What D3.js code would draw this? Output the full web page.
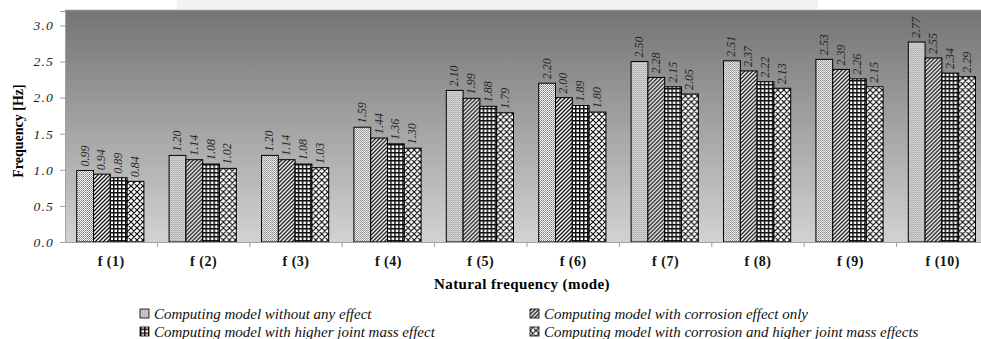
<!DOCTYPE html>
<html lang="en">
<head>
<meta charset="UTF-8">
<title>Natural frequency chart</title>
<script src="https://d3js.org/d3.v7.min.js"></script>
<style>
    body, html { margin: 0; padding: 0; background: #fff; overflow: hidden; }
    svg { display: block; }
    text { font-family: "Liberation Serif", "Times New Roman", serif; }
</style>
</head>
<body>
<div id="chart"></div>
<script>
// data
const modes = ["f (1)", "f (2)", "f (3)", "f (4)", "f (5)", "f (6)", "f (7)", "f (8)", "f (9)", "f (10)"];
const seriesNames = [
    "Computing model without any effect",
    "Computing model with corrosion effect only",
    "Computing model with higher joint mass effect",
    "Computing model with corrosion and higher joint mass effects"
];
const noEffect      = [0.99, 1.20, 1.20, 1.59, 2.10, 2.20, 2.50, 2.51, 2.53, 2.77];
const corrosionOnly = [0.94, 1.14, 1.14, 1.44, 1.99, 2.00, 2.28, 2.37, 2.39, 2.55];
const jointMass     = [0.89, 1.08, 1.08, 1.36, 1.88, 1.89, 2.15, 2.22, 2.26, 2.34];
const bothEffects   = [0.84, 1.02, 1.03, 1.30, 1.79, 1.80, 2.05, 2.13, 2.15, 2.29];
const yTicks = [0, 0.5, 1.0, 1.5, 2.0, 2.5, 3.0];

(function() {
const series = [noEffect, corrosionOnly, jointMass, bothEffects];

const W = 981, H = 339;
const plotLeft = 65, plotTop = 10, plotBottom = 242;
const band = 92.4;

const svg = d3.select("#chart").append("svg")
    .attr("width", W).attr("height", H);

const defs = svg.append("defs");

const grad = defs.append("linearGradient")
    .attr("id", "bg").attr("x1", 0).attr("y1", 0).attr("x2", 0).attr("y2", 1);
grad.append("stop").attr("offset", "0%").attr("stop-color", "#747474");
grad.append("stop").attr("offset", "100%").attr("stop-color", "#d2d2d2");

// fill patterns for the four series
let p = defs.append("pattern").attr("id", "pat0").attr("patternUnits", "userSpaceOnUse")
    .attr("width", 2).attr("height", 2);
p.append("rect").attr("width", 2).attr("height", 2).attr("fill", "#fff");
p.append("rect").attr("width", 1).attr("height", 1).attr("fill", "#777");
p.append("rect").attr("x", 1).attr("y", 1).attr("width", 1).attr("height", 1).attr("fill", "#999");

p = defs.append("pattern").attr("id", "pat1").attr("patternUnits", "userSpaceOnUse")
    .attr("width", 4).attr("height", 4);
p.append("rect").attr("width", 4).attr("height", 4).attr("fill", "#fff");
p.append("path").attr("d", "M-1,5 L5,-1 M-1,1 L1,-1 M3,5 L5,3")
    .attr("stroke", "#111").attr("stroke-width", 1.3);

p = defs.append("pattern").attr("id", "pat2").attr("patternUnits", "userSpaceOnUse")
    .attr("width", 4).attr("height", 4);
p.append("rect").attr("width", 4).attr("height", 4).attr("fill", "#fff");
p.append("rect").attr("width", 4).attr("height", 1.5).attr("fill", "#111");
p.append("rect").attr("width", 1.5).attr("height", 4).attr("fill", "#111");

p = defs.append("pattern").attr("id", "pat3").attr("patternUnits", "userSpaceOnUse")
    .attr("width", 6).attr("height", 6);
p.append("rect").attr("width", 6).attr("height", 6).attr("fill", "#fff");
p.append("path").attr("d", "M0,0 L6,6 M6,0 L0,6 M-1,5 L1,7 M5,-1 L7,1 M-1,1 L1,-1 M5,7 L7,5")
    .attr("stroke", "#111").attr("stroke-width", 1.2);

// scales
const x = d3.scaleBand().domain(modes).range([plotLeft, plotLeft + band * modes.length]).paddingInner(0).paddingOuter(0);
const xs = d3.scaleBand().domain(d3.range(series.length)).range([11.7, 11.7 + 67.2]);
const y = d3.scaleLinear().domain([0, 3.2]).range([plotBottom, plotTop + 1]);

// title strip remnant
svg.append("rect").attr("x", 177).attr("y", 0).attr("width", 641).attr("height", 9).attr("fill", "#f2f2f2");

// plot area
svg.append("rect").attr("x", plotLeft).attr("y", plotTop).attr("width", W - plotLeft + 20).attr("height", plotBottom - plotTop)
    .attr("fill", "url(#bg)");
svg.append("line").attr("x1", plotLeft).attr("x2", W).attr("y1", plotTop + 0.5).attr("y2", plotTop + 0.5)
    .attr("stroke", "#8a8a8a").attr("stroke-width", 1.5);

// bars
const groups = svg.append("g").selectAll("g")
    .data(modes).join("g")
    .attr("transform", d => `translate(${x(d)},0)`);

series.forEach((vals, si) => {
    groups.append("rect")
        .attr("x", xs(si))
        .attr("width", xs.bandwidth())
        .attr("y", (d, i) => y(vals[i]))
        .attr("height", (d, i) => plotBottom - y(vals[i]))
        .attr("fill", `url(#pat${si})`)
        .attr("stroke", "#000").attr("stroke-width", 1);

    groups.append("text")
        .attr("transform", (d, i) => `translate(${xs(si) + xs.bandwidth() / 2 + 3.5},${y(vals[i]) - 4}) rotate(-90)`)
        .attr("font-size", 12).attr("font-style", "italic").attr("fill", "#222")
        .text((d, i) => vals[i].toFixed(2));
});

// y axis
const yAxis = svg.append("g").attr("transform", `translate(${plotLeft},0)`)
    .call(d3.axisLeft(y).tickValues(yTicks).tickFormat(d3.format(".1f")).tickSize(5).tickPadding(6));
yAxis.select(".domain").attr("stroke", "#a0a0a0");
yAxis.selectAll(".tick line").attr("stroke", "#a0a0a0");
yAxis.selectAll(".tick text").attr("font-family", "Liberation Serif, serif")
    .attr("font-size", 13.5).attr("font-style", "italic").attr("fill", "#222")
    .attr("letter-spacing", "1.2px");

// x axis
const xAxis = svg.append("g").attr("transform", `translate(0,${plotBottom})`)
    .call(d3.axisBottom(x).tickSize(0).tickPadding(14));
xAxis.select(".domain").attr("stroke", "#a0a0a0");
xAxis.selectAll(".tick text").attr("font-family", "Liberation Serif, serif")
    .attr("font-size", 14).attr("font-weight", "bold").attr("fill", "#111")
    .attr("letter-spacing", "0.5px");
svg.append("g").selectAll("line")
    .data(modes).join("line")
    .attr("x1", d => x(d) + band).attr("x2", d => x(d) + band)
    .attr("y1", plotBottom).attr("y2", plotBottom + 5)
    .attr("stroke", "#a0a0a0");

// axis titles
svg.append("text")
    .attr("transform", `translate(23,131) rotate(-90)`)
    .attr("text-anchor", "middle").attr("font-size", 14).attr("font-weight", "bold")
    .text("Frequency [Hz]");
svg.append("text")
    .attr("x", 522).attr("y", 289)
    .attr("text-anchor", "middle").attr("font-size", 15).attr("font-weight", "bold")
    .attr("letter-spacing", "0.4px")
    .text("Natural frequency (mode)");

// legend
const legendPos = [[140, 318.5], [530, 318.5], [140, 336.5], [530, 336.5]];
const legend = svg.append("g").selectAll("g")
    .data(seriesNames).join("g")
    .attr("transform", (d, i) => `translate(${legendPos[i][0]},${legendPos[i][1]})`);
legend.append("rect")
    .attr("x", 0).attr("y", -9.5).attr("width", 9).attr("height", 9)
    .attr("fill", (d, i) => `url(#pat${i})`).attr("stroke", "#000").attr("stroke-width", 0.8);
legend.append("text")
    .attr("x", 14).attr("y", 0)
    .attr("font-size", 15).attr("font-style", "italic").attr("fill", "#111")
    .text(d => d);
})();
</script>
</body>
</html>
